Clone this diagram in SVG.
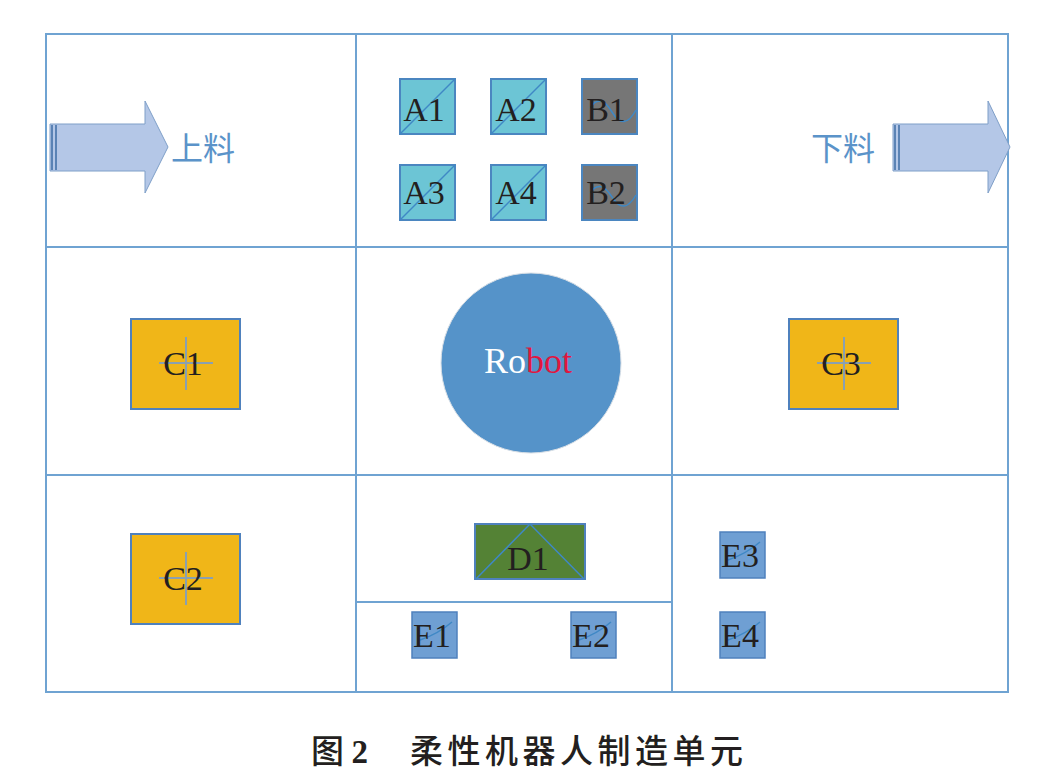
<svg xmlns="http://www.w3.org/2000/svg" width="1042" height="777" viewBox="0 0 1042 777">
<defs>
<style>
.grid{stroke:#6fa3d2;stroke-width:2;fill:none}
.lbl{font-family:"Liberation Serif",serif;font-size:34px;fill:#231f20;text-anchor:middle}
.a{fill:#6cc5d5;stroke:#4b86c0;stroke-width:2}
.b{fill:#767676;stroke:#4b86c0;stroke-width:2}
.c{fill:#f0b618;stroke:#4f81bd;stroke-width:2}
.d{fill:#548235;stroke:#4f81bd;stroke-width:2}
.e{fill:#6f9fd3;stroke:#4f81bd;stroke-width:1.5}
.diag{stroke:#3f88c5;stroke-width:1.5;fill:none}
.cross{stroke:#8aa0b0;stroke-width:2;fill:none}
.arrow{fill:#b4c7e7;stroke:#7f9fc8;stroke-width:1}
.zh{font-family:"Noto Sans CJK SC","Liberation Serif",serif;font-size:32px;fill:#5b93c9}
</style>
</defs>
<rect width="1042" height="777" fill="#ffffff"/>
<g id="grid">
<rect class="grid" x="46" y="34" width="962" height="658"/>
<line class="grid" x1="356" y1="34" x2="356" y2="692"/>
<line class="grid" x1="672" y1="34" x2="672" y2="692"/>
<line class="grid" x1="46" y1="247" x2="1008" y2="247"/>
<line class="grid" x1="46" y1="475" x2="1008" y2="475"/>
<line class="grid" x1="356" y1="602" x2="672" y2="602"/>
</g>
<g id="in-arrow">
<path class="arrow" d="M50,124 H145 V101 L168,147 L145,193 V171 H50 Z"/>
<line x1="52" y1="125" x2="52" y2="170" stroke="#5b83b5" stroke-width="2"/>
<line x1="56" y1="125" x2="56" y2="170" stroke="#5b83b5" stroke-width="2"/>
<text class="zh" x="171" y="160">上料</text>
</g>
<g id="out-arrow">
<path class="arrow" d="M893,124 H988 V101 L1010,147 L988,193 V171 H893 Z"/>
<line x1="895" y1="125" x2="895" y2="170" stroke="#5b83b5" stroke-width="2"/>
<line x1="899" y1="125" x2="899" y2="170" stroke="#5b83b5" stroke-width="2"/>
<text class="zh" x="811" y="160">下料</text>
</g>
<g id="A1"><rect class="a" x="400" y="79" width="55" height="55"/><line class="diag" x1="400" y1="134" x2="455" y2="79"/><text class="lbl" x="424" y="121">A1</text></g>
<g id="A2"><rect class="a" x="491" y="79" width="55" height="55"/><line class="diag" x1="491" y1="134" x2="546" y2="79"/><text class="lbl" x="516" y="121">A2</text></g>
<g id="B1"><rect class="b" x="582" y="79" width="55" height="55"/><path class="diag" d="M590,108 Q600,92 612,112 T636,110" stroke="#4a7fb5"/><text class="lbl" x="606" y="121">B1</text></g>
<g id="A3"><rect class="a" x="400" y="165" width="55" height="55"/><line class="diag" x1="400" y1="220" x2="455" y2="165"/><text class="lbl" x="424" y="204">A3</text></g>
<g id="A4"><rect class="a" x="491" y="165" width="55" height="55"/><line class="diag" x1="491" y1="220" x2="546" y2="165"/><text class="lbl" x="516" y="204">A4</text></g>
<g id="B2"><rect class="b" x="582" y="165" width="55" height="55"/><path class="diag" d="M590,193 Q600,178 612,197 T636,195" stroke="#4a7fb5"/><text class="lbl" x="606" y="204">B2</text></g>
<g id="C1"><rect class="c" x="131" y="319" width="109" height="90"/><line class="cross" x1="159" y1="363" x2="213" y2="363"/><line class="cross" x1="186" y1="337" x2="186" y2="390"/><text class="lbl" x="183" y="375">C1</text></g>
<g id="C3"><rect class="c" x="789" y="319" width="109" height="90"/><line class="cross" x1="817" y1="363" x2="871" y2="363"/><line class="cross" x1="844" y1="337" x2="844" y2="390"/><text class="lbl" x="841" y="375">C3</text></g>
<g id="C2"><rect class="c" x="131" y="534" width="109" height="90"/><line class="cross" x1="159" y1="578" x2="213" y2="578"/><line class="cross" x1="186" y1="552" x2="186" y2="605"/><text class="lbl" x="183" y="590">C2</text></g>
<g id="Robot"><circle cx="531" cy="363" r="90" fill="#5593c9" stroke="#d8dfe6" stroke-width="1"/><text x="528" y="373" style="font-family:'Liberation Serif',serif;font-size:36px" text-anchor="middle"><tspan fill="#ffffff">Ro</tspan><tspan fill="#e0163f">bot</tspan></text></g>
<g id="D1"><rect class="d" x="475" y="524" width="110" height="55"/><polyline class="diag" points="476,579 530,524 584,579" stroke="#4f8cc2" stroke-width="2"/><text class="lbl" x="528" y="570">D1</text></g>
<g id="E1"><rect class="e" x="412" y="612" width="45" height="46"/><path class="diag" d="M420,640 Q438,634 452,622" stroke="#3d7ab8"/><text class="lbl" x="432" y="647">E1</text></g>
<g id="E2"><rect class="e" x="571" y="612" width="45" height="46"/><path class="diag" d="M579,640 Q597,634 611,622" stroke="#3d7ab8"/><text class="lbl" x="591" y="647">E2</text></g>
<g id="E3"><rect class="e" x="720" y="532" width="45" height="46"/><path class="diag" d="M728,560 Q746,554 760,542" stroke="#3d7ab8"/><text class="lbl" x="740" y="567">E3</text></g>
<g id="E4"><rect class="e" x="720" y="612" width="45" height="46"/><path class="diag" d="M728,640 Q746,634 760,622" stroke="#3d7ab8"/><text class="lbl" x="740" y="647">E4</text></g>
<g id="caption"><text x="311" y="763" style="font-family:'Noto Sans CJK SC','Liberation Serif',serif;font-size:33px;font-weight:500;fill:#231f20">图 <tspan style="font-family:'Liberation Serif',serif;font-weight:bold">2</tspan></text><text x="410" y="763" style="font-family:'Noto Sans CJK SC',sans-serif;font-size:33px;font-weight:500;fill:#231f20;letter-spacing:4.5px">柔性机器人制造单元</text></g>
</svg>
